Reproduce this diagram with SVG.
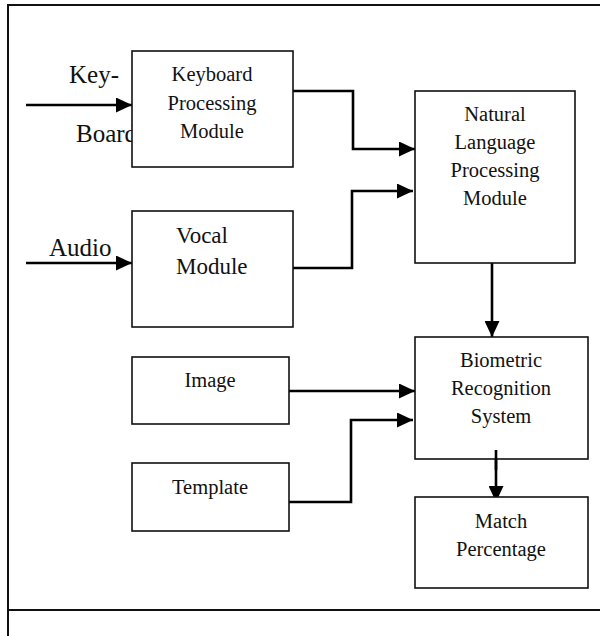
<svg xmlns="http://www.w3.org/2000/svg" width="601" height="636" viewBox="0 0 601 636">
  <style>
    .box { fill: #ffffff; stroke: #111111; stroke-width: 1.6; }
    .frame { fill: none; stroke: #111111; stroke-width: 2; }
    .wire { fill: none; stroke: #000000; stroke-width: 2.6; }
    .lbl { font-family: "Liberation Serif", "Times New Roman", serif; fill: #111111; }
    .t21 { font-size: 20.5px; text-anchor: middle; }
    .t23 { font-size: 23px; }
    .t25 { font-size: 25px; }
  </style>
  <defs>
    <marker id="arrow" markerUnits="userSpaceOnUse" markerWidth="16" markerHeight="15" refX="16" refY="7.5" orient="auto">
      <path d="M0,0 L16,7.5 L0,15 z" fill="#000000"/>
    </marker>
  </defs>

  <rect width="601" height="636" fill="#ffffff"/>

  <!-- page frame -->
  <g id="frame">
    <path class="frame" d="M8,636 V5 H600"/>
    <path class="frame" d="M8,610 H600"/>
  </g>

  <!-- external input labels (drawn before the boxes so the box covers the overflow) -->
  <g id="input-labels">
    <text class="lbl t25" x="69" y="83">Key-</text>
    <text class="lbl t25" x="76" y="142">Board</text>
    <text class="lbl t25" x="49" y="256">Audio</text>
  </g>

  <!-- connectors -->
  <g id="connectors">
    <path class="wire" d="M26,105 H132" marker-end="url(#arrow)"/>
    <path class="wire" d="M26,263 H132" marker-end="url(#arrow)"/>
    <path class="wire" d="M293,91 H353 V149 H415" marker-end="url(#arrow)"/>
    <path class="wire" d="M293,268 H352 V191 H413" marker-end="url(#arrow)"/>
    <path class="wire" d="M492,263 V337" marker-end="url(#arrow)"/>
    <path class="wire" d="M289,391 H415" marker-end="url(#arrow)"/>
    <path class="wire" d="M289,502 H351 V420 H413" marker-end="url(#arrow)"/>
    <path class="wire" d="M496,450 V502" marker-end="url(#arrow)"/>
  </g>

  <g id="keyboard">
    <rect class="box" x="132" y="51" width="161" height="116"/>
    <text class="lbl t21" x="212" y="81">Keyboard</text>
    <text class="lbl t21" x="212" y="110">Processing</text>
    <text class="lbl t21" x="212" y="138">Module</text>
  </g>

  <g id="vocal">
    <rect class="box" x="132" y="211" width="161" height="116"/>
    <text class="lbl t23" x="176" y="243">Vocal</text>
    <text class="lbl t23" x="176" y="274">Module</text>
  </g>

  <g id="image">
    <rect class="box" x="132" y="357" width="157" height="67"/>
    <text class="lbl t21" x="210" y="387">Image</text>
  </g>

  <g id="template">
    <rect class="box" x="132" y="463" width="157" height="68"/>
    <text class="lbl t21" x="210" y="494">Template</text>
  </g>

  <g id="nlp">
    <rect class="box" x="415" y="91" width="160" height="172"/>
    <text class="lbl t21" x="495" y="121">Natural</text>
    <text class="lbl t21" x="495" y="149">Language</text>
    <text class="lbl t21" x="495" y="177">Processing</text>
    <text class="lbl t21" x="495" y="205">Module</text>
  </g>

  <g id="biometric">
    <rect class="box" x="415" y="337" width="173" height="122"/>
    <text class="lbl t21" x="501" y="367">Biometric</text>
    <text class="lbl t21" x="501" y="395">Recognition</text>
    <text class="lbl t21" x="501" y="423">System</text>
  </g>

  <!-- the output arrow starts inside the recognition box -->
  <path class="wire" d="M496,450 V470"/>

  <g id="match">
    <rect class="box" x="415" y="497" width="173" height="91"/>
    <text class="lbl t21" x="501" y="528">Match</text>
    <text class="lbl t21" x="501" y="556">Percentage</text>
  </g>
</svg>
